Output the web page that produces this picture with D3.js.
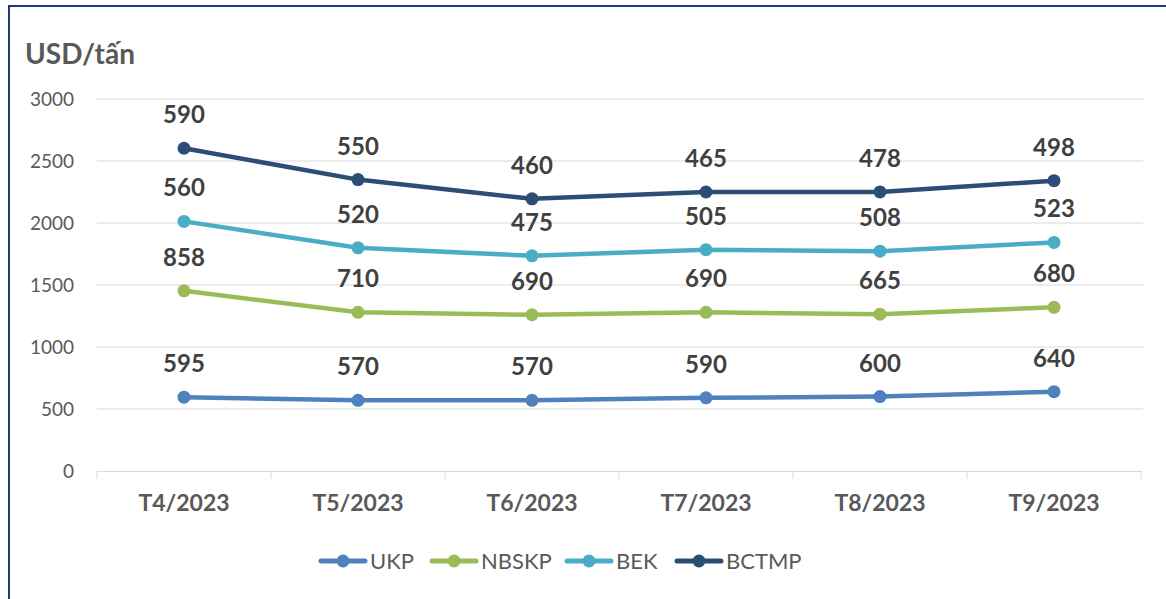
<!DOCTYPE html>
<html>
<head>
<meta charset="utf-8">
<script src="https://cdn.jsdelivr.net/npm/d3@7"></script>
<style>
  body { margin: 0; background: #fff; }
  svg { font-family: Lato, "Open Sans", sans-serif; }
</style>
</head>
<body>
<div id="chart"></div>
<script>
// months and the four pulp prices (stacked in the chart, labels show own value)
var months = ["T4/2023", "T5/2023", "T6/2023", "T7/2023", "T8/2023", "T9/2023"];
var seriesNames = ["UKP", "NBSKP", "BEK", "BCTMP"];
var ukp = [595, 570, 570, 590, 600, 640];
var nbskp = [858, 710, 690, 690, 665, 680];
var bek = [560, 520, 475, 505, 508, 523];
var bctmp = [590, 550, 460, 465, 478, 498];
var yTicks = [0, 500, 1000, 1500, 2000, 2500, 3000];
var colors = ["#4f81bd", "#9bbb59", "#4bacc6", "#2c4d75"];

var width = 1166, height = 599;
var plotLeft = 97, plotRight = 1141, plotTop = 99, plotBottom = 471;

var rows = months.map(function(m, i) {
    return { month: m, UKP: ukp[i], NBSKP: nbskp[i], BEK: bek[i], BCTMP: bctmp[i] };
});
var stacked = d3.stack().keys(seriesNames)(rows);

var svg = d3.select("#chart").append("svg")
    .attr("width", width)
    .attr("height", height);

// outer frame
svg.append("rect")
    .attr("x", 9).attr("y", 6)
    .attr("width", 1170).attr("height", 610)
    .attr("fill", "none")
    .attr("stroke", "#1f3a70")
    .attr("stroke-width", 2);

var x = d3.scaleBand().domain(months).range([plotLeft, plotRight]);
var y = d3.scaleLinear().domain([0, 3000]).range([plotBottom, plotTop]);

// gridlines
svg.append("g")
    .selectAll("line")
    .data(yTicks.slice(1))
    .enter().append("line")
    .attr("x1", plotLeft).attr("x2", plotRight + 2)
    .attr("y1", function(d) { return y(d); })
    .attr("y2", function(d) { return y(d); })
    .attr("stroke", "#d9d9d9")
    .attr("stroke-width", 1);

// y axis labels
var yAxis = svg.append("g")
    .attr("transform", "translate(" + plotLeft + ",0)")
    .call(d3.axisLeft(y).tickValues(yTicks).tickFormat(d3.format("d")).tickSize(0).tickPadding(23));
yAxis.select(".domain").remove();
yAxis.selectAll("text")
    .attr("font-size", 19)
    .attr("font-family", "Lato, sans-serif")
    .attr("fill", "#595959");

// x axis
var xAxis = svg.append("g")
    .attr("transform", "translate(0," + plotBottom + ")")
    .call(d3.axisBottom(x).tickSize(0).tickPadding(24));
xAxis.select(".domain").attr("stroke", "#d9d9d9");
xAxis.selectAll("text")
    .attr("font-size", 23)
    .attr("font-weight", "bold")
    .attr("font-family", "Lato, sans-serif")
    .attr("fill", "#595959");
// category dividers
svg.append("g")
    .selectAll("line")
    .data(months.concat(["end"]))
    .enter().append("line")
    .attr("x1", function(d, i) { return plotLeft + i * x.bandwidth(); })
    .attr("x2", function(d, i) { return plotLeft + i * x.bandwidth(); })
    .attr("y1", plotBottom).attr("y2", plotBottom + 8)
    .attr("stroke", "#d9d9d9");

// title
svg.append("text")
    .attr("x", 25).attr("y", 64)
    .attr("font-size", 28)
    .attr("font-weight", "bold")
    .attr("fill", "#595959")
    .text("USD/tấn");

var line = d3.line()
    .x(function(d) { return x(d.data.month) + x.bandwidth() / 2; })
    .y(function(d) { return y(d[1]); });

var series = svg.selectAll(".series")
    .data(stacked)
    .enter().append("g")
    .attr("class", "series");

series.append("path")
    .attr("d", line)
    .attr("fill", "none")
    .attr("stroke", function(d, i) { return colors[i]; })
    .attr("stroke-width", 4.5)
    .attr("stroke-linecap", "round");

series.each(function(s, si) {
    var g = d3.select(this);
    g.selectAll("circle")
        .data(s)
        .enter().append("circle")
        .attr("cx", function(d) { return x(d.data.month) + x.bandwidth() / 2; })
        .attr("cy", function(d) { return y(d[1]); })
        .attr("r", 6.5)
        .attr("fill", colors[si]);
    g.selectAll("text")
        .data(s)
        .enter().append("text")
        .attr("x", function(d) { return x(d.data.month) + x.bandwidth() / 2; })
        .attr("y", function(d) { return y(d[1]) - 25; })
        .attr("text-anchor", "middle")
        .attr("font-size", 24)
        .attr("font-weight", "bold")
        .attr("fill", "#404040")
        .text(function(d) { return d.data[s.key]; });
});

// legend
var legendX = [319, 430, 565, 675];
var legend = svg.selectAll(".legend")
    .data(seriesNames)
    .enter().append("g")
    .attr("class", "legend")
    .attr("transform", function(d, i) { return "translate(" + legendX[i] + ",561)"; });
legend.append("line")
    .attr("x1", 2).attr("x2", 46)
    .attr("stroke", function(d, i) { return colors[i]; })
    .attr("stroke-width", 5)
    .attr("stroke-linecap", "round");
legend.append("circle")
    .attr("cx", 24).attr("r", 6.5)
    .attr("fill", function(d, i) { return colors[i]; });
legend.append("text")
    .attr("x", 51).attr("y", 8)
    .attr("font-size", 22)
    .attr("fill", "#595959")
    .text(function(d) { return d; });
</script>
</body>
</html>
